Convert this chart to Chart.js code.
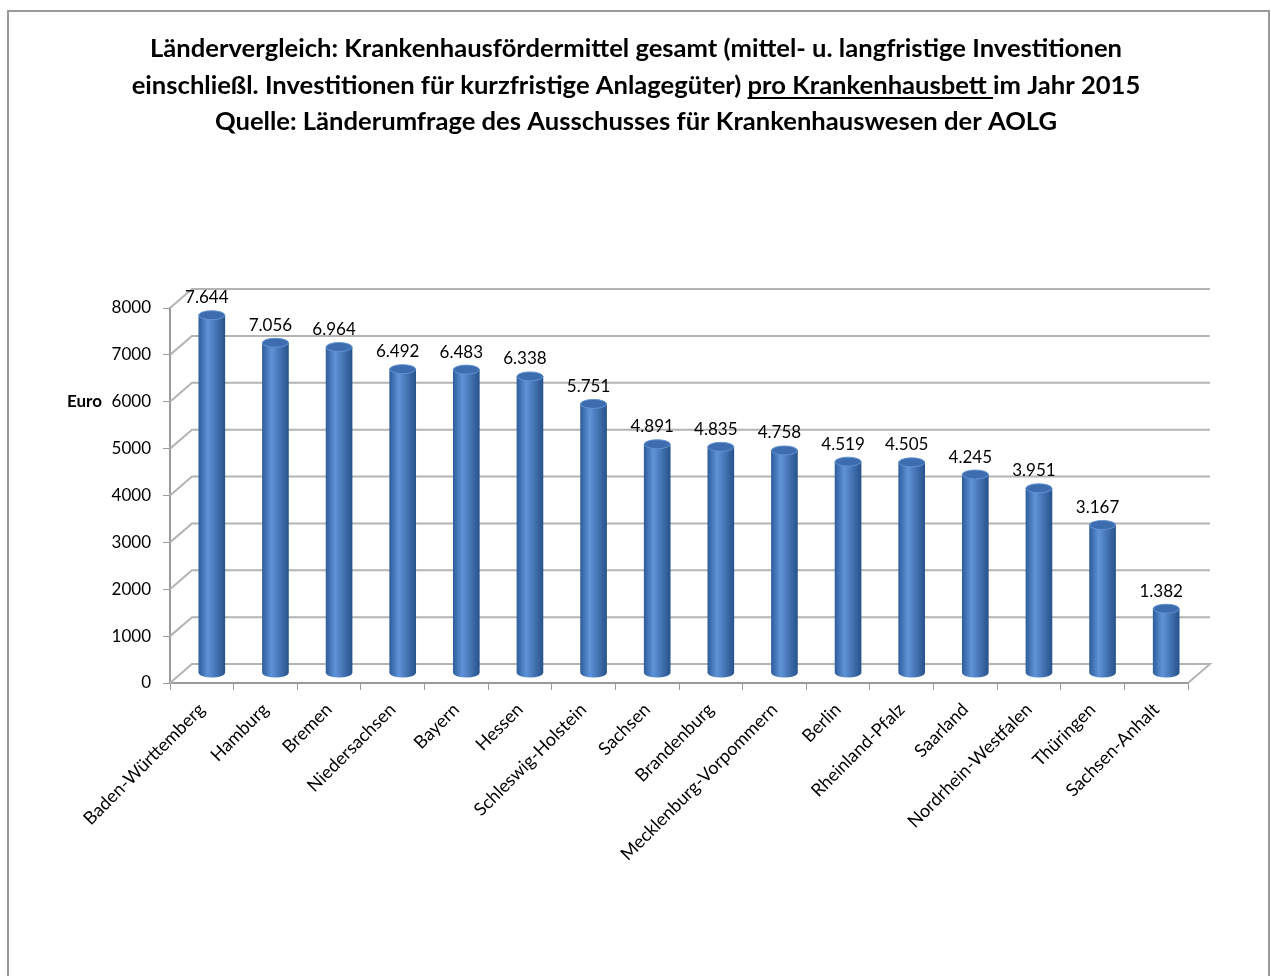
<!DOCTYPE html>
<html>
<head>
<meta charset="utf-8">
<script src="https://cdn.jsdelivr.net/npm/chart.js@4"></script>
<style>
  html, body { margin: 0; padding: 0; background: #fff; }
  #wrap { width: 1271px; height: 976px; position: relative; }
</style>
</head>
<body>
<div id="wrap"><canvas id="myChart" width="1271" height="976"></canvas></div>
<script>
// data
const laender = ['Baden-Württemberg', 'Hamburg', 'Bremen', 'Niedersachsen', 'Bayern', 'Hessen',
  'Schleswig-Holstein', 'Sachsen', 'Brandenburg', 'Mecklenburg-Vorpommern', 'Berlin',
  'Rheinland-Pfalz', 'Saarland', 'Nordrhein-Westfalen', 'Thüringen', 'Sachsen-Anhalt'];
const euroProBett = [7644, 7056, 6964, 6492, 6483, 6338, 5751, 4891, 4835, 4758, 4519, 4505, 4245, 3951, 3167, 1382];
const yTicks = [0, 1000, 2000, 3000, 4000, 5000, 6000, 7000, 8000];

const titel1 = 'Ländervergleich: Krankenhausfördermittel gesamt (mittel- u. langfristige Investitionen';
const titel2a = 'einschließl. Investitionen für kurzfristige Anlagegüter) ';
const titel2b = 'pro Krankenhausbett ';
const titel2c = 'im Jahr 2015';
const titel3 = 'Quelle: Länderumfrage des Ausschusses für Krankenhauswesen der AOLG';
const yTitel = 'Euro';

const FONT = 'Lato, "Open Sans", sans-serif';
const DX = 22, DY = -19;          // depth of the 3d box
const BX = 10, BY = -9.5;         // bars stand in the middle of the depth

function fmt(v) {
  return String(v).replace(/\B(?=(\d{3})+(?!\d))/g, '.');
}

function cylGradient(c, cx, hw) {
  const g = c.createLinearGradient(cx - hw, 0, cx + hw, 0);
  g.addColorStop(0, '#2f5e9c');
  g.addColorStop(0.35, '#5f93d8');
  g.addColorStop(1, '#28538c');
  return g;
}

const ctx = document.getElementById('myChart');

const box3d = {
  id: 'box3d',
  beforeDraw(chart) {
    const c = chart.ctx;
    // outer frame
    c.save();
    c.strokeStyle = '#9a9a9a';
    c.lineWidth = 2;
    c.beginPath();
    c.moveTo(8, 976);
    c.lineTo(8, 11);
    c.lineTo(1269, 11);
    c.lineTo(1269, 976);
    c.stroke();

    // title
    c.fillStyle = '#000';
    c.textAlign = 'left';
    c.textBaseline = 'alphabetic';
    c.font = 'bold 25.6px ' + FONT;
    const cx = 636;
    let w = c.measureText(titel1).width;
    c.fillText(titel1, cx - w / 2, 57);
    const wa = c.measureText(titel2a).width;
    const wb = c.measureText(titel2b).width;
    const wc = c.measureText(titel2c).width;
    let x0 = cx - (wa + wb + wc) / 2;
    c.fillText(titel2a, x0, 94);
    c.fillText(titel2b, x0 + wa, 94);
    c.fillText(titel2c, x0 + wa + wb, 94);
    c.fillRect(x0 + wa, 97, wb, 2);
    w = c.measureText(titel3).width;
    c.fillText(titel3, cx - w / 2, 130);
    c.restore();
  },
  beforeDatasetsDraw(chart) {
    const c = chart.ctx;
    const y = chart.scales.y;
    const a = chart.chartArea;
    c.save();
    c.strokeStyle = '#b4b4b4';
    c.lineWidth = 2;
    yTicks.forEach(v => {
      const py = y.getPixelForValue(v);
      c.beginPath();
      c.moveTo(a.left, py);
      c.lineTo(a.left + DX, py + DY);
      c.lineTo(a.right + DX, py + DY);
      if (v === 0) c.lineTo(a.right, py);
      c.stroke();
    });
    c.restore();
    c.save();
    c.translate(BX, BY);
  },
  afterDatasetsDraw(chart) {
    const c = chart.ctx;
    c.restore();
    const meta = chart.getDatasetMeta(0);
    c.save();
    c.translate(BX, BY);
    meta.data.forEach((bar, i) => {
      const hw = bar.width / 2;
      const ry = 4.5;
      // rounded bottom
      c.fillStyle = cylGradient(c, bar.x, hw);
      c.beginPath();
      c.ellipse(bar.x, bar.base, hw, ry, 0, 0, Math.PI);
      c.fill();
      // top cap
      c.fillStyle = '#3d6daf';
      c.strokeStyle = '#6193d4';
      c.lineWidth = 1;
      c.beginPath();
      c.ellipse(bar.x, bar.y, hw, ry, 0, 0, Math.PI * 2);
      c.fill();
      c.stroke();
    });
    c.restore();

    // value labels
    c.save();
    c.fillStyle = '#000';
    c.font = '17px ' + FONT;
    c.textAlign = 'center';
    c.textBaseline = 'alphabetic';
    meta.data.forEach((bar, i) => {
      c.fillText(fmt(euroProBett[i]), bar.x + 5, bar.y + BY - 12);
    });
    // y axis caption
    c.font = 'bold 17px ' + FONT;
    c.textAlign = 'left';
    c.textBaseline = 'middle';
    c.fillText(yTitel, 67, chart.scales.y.getPixelForValue(6000));
    c.restore();
  }
};

new Chart(ctx, {
  type: 'bar',
  data: {
    labels: laender,
    datasets: [{
      label: 'Euro',
      data: euroProBett,
      barThickness: 26,
      borderWidth: 0,
      backgroundColor(context) {
        const chart = context.chart;
        const xs = chart.scales.x;
        if (!xs || context.dataIndex === undefined) return '#4f81bd';
        const cx = xs.getPixelForValue(context.dataIndex);
        if (!isFinite(cx)) return '#4f81bd';
        return cylGradient(chart.ctx, cx, 13);
      }
    }]
  },
  options: {
    responsive: false,
    animation: false,
    layout: { padding: { left: 0, top: 308, right: 83, bottom: 0 } },
    plugins: {
      legend: { display: false },
      title: { display: false },
      tooltip: { enabled: false }
    },
    scales: {
      x: {
        afterFit(scale) { scale.height = 293; },
        border: { display: true, color: '#9a9a9a', width: 2 },
        grid: { display: true, drawOnChartArea: false, drawTicks: true, tickLength: 7, color: '#9a9a9a', lineWidth: 1 },
        ticks: {
          color: '#000',
          font: { family: FONT, size: 18 },
          minRotation: 45,
          maxRotation: 45,
          autoSkip: false,
          padding: 9
        }
      },
      y: {
        min: 0,
        max: 8000,
        afterFit(scale) { scale.width = 170; },
        afterBuildTicks(scale) { scale.ticks = yTicks.map(v => ({ value: v })); },
        border: { display: true, color: '#9a9a9a', width: 2 },
        grid: { display: true, drawOnChartArea: false, drawTicks: true, tickLength: 7, color: '#9a9a9a' },
        ticks: {
          color: '#000',
          font: { family: FONT, size: 17 },
          padding: 12,
          callback: v => String(v)
        }
      }
    }
  },
  plugins: [box3d]
});
</script>
</body>
</html>
